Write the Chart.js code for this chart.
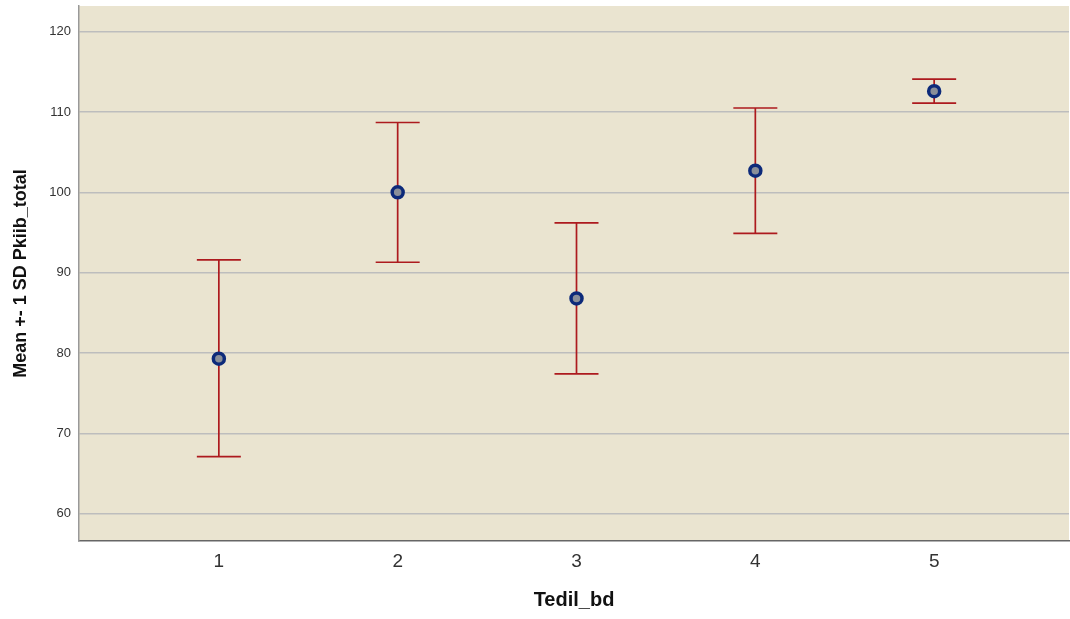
<!DOCTYPE html>
<html>
<head>
<meta charset="utf-8">
<script src="https://cdn.jsdelivr.net/npm/chart.js@4.4.1/dist/chart.umd.min.js"></script>
<style>
  html, body { margin: 0; padding: 0; background: #fff; }
  #wrap { width: 1070px; height: 619px; }
</style>
</head>
<body>
<div id="wrap"><canvas id="chart" width="1070" height="619"></canvas></div>
<script>
// groups of Tedil_bd, mean and +-1 SD of Pkiib_total
const categories = [1, 2, 3, 4, 5];
const means = [79.3, 100.0, 86.8, 102.7, 112.6];
const upper = [91.6, 108.7, 96.2, 110.5, 114.1];
const lower = [67.1, 91.3, 77.4, 94.9, 111.1];
const yTicks = [60, 70, 80, 90, 100, 110, 120];

const barRed = '#ad1a1e';
const fontName = "'Liberation Sans', Arial, sans-serif";

// whiskers drawn from the data through the chart scales
const errorBars = {
    id: 'errorBars',
    beforeDatasetsDraw(chart) {
        const ctx = chart.ctx;
        const xs = chart.scales.x;
        const ys = chart.scales.y;
        ctx.save();
        ctx.strokeStyle = barRed;
        ctx.lineWidth = 1.7;
        categories.forEach((c, i) => {
            const x = xs.getPixelForValue(c);
            const yTop = ys.getPixelForValue(upper[i]);
            const yBot = ys.getPixelForValue(lower[i]);
            const cap = 22;
            ctx.beginPath();
            ctx.moveTo(x, yTop); ctx.lineTo(x, yBot);
            ctx.moveTo(x - cap, yTop); ctx.lineTo(x + cap, yTop);
            ctx.moveTo(x - cap, yBot); ctx.lineTo(x + cap, yBot);
            ctx.stroke();
        });
        ctx.restore();
    }
};

const plotBg = {
    id: 'plotBg',
    beforeDraw(chart) {
        const a = chart.chartArea;
        chart.ctx.save();
        chart.ctx.fillStyle = '#eae4d0';
        chart.ctx.fillRect(a.left, a.top, a.right - a.left, a.bottom - a.top);
        chart.ctx.restore();
    }
};

new Chart(document.getElementById('chart'), {
    type: 'scatter',
    data: {
        datasets: [{
            label: 'Mean',
            data: categories.map((c, i) => ({ x: c, y: means[i] })),
            backgroundColor: '#8a8f99',
            borderColor: '#0d2a7a',
            borderWidth: 3.5,
            pointRadius: 5.5,
            pointHoverRadius: 5.5
        }]
    },
    options: {
        responsive: false,
        animation: false,
        layout: { autoPadding: false, padding: { left: 8, top: 6, right: 1, bottom: 5 } },
        plugins: {
            legend: { display: false },
            tooltip: { enabled: false }
        },
        scales: {
            x: {
                type: 'linear',
                min: 0.218,
                max: 5.754,
                afterBuildTicks: s => { s.ticks = categories.map(v => ({ value: v })); },
                afterFit: s => { s.height = 73; s.paddingLeft = 0; s.paddingRight = 0; },
                grid: { display: false, drawTicks: false },
                border: { display: true, color: '#666', width: 1.5 },
                ticks: {
                    color: '#333',
                    padding: 9,
                    font: { family: fontName, size: 19 }
                },
                title: {
                    display: true,
                    text: 'Tedil_bd',
                    color: '#111',
                    padding: { top: 0, bottom: 2 },
                    font: { family: fontName, size: 20, weight: 'bold' }
                }
            },
            y: {
                min: 56.6,
                max: 123.2,
                afterBuildTicks: s => { s.ticks = yTicks.map(v => ({ value: v })); },
                afterFit: s => { s.width = 71; s.paddingTop = 0; s.paddingBottom = 0; },
                grid: { color: '#bdbdbd', lineWidth: 1.5, drawTicks: false },
                border: { display: true, color: '#999', width: 1.5 },
                ticks: {
                    color: '#333',
                    padding: 8,
                    font: { family: fontName, size: 13 }
                },
                title: {
                    display: true,
                    text: 'Mean +- 1 SD Pkiib_total',
                    color: '#111',
                    padding: { top: 2, bottom: 0 },
                    font: { family: fontName, size: 18, weight: 'bold' }
                }
            }
        }
    },
    plugins: [plotBg, errorBars]
});
</script>
</body>
</html>
